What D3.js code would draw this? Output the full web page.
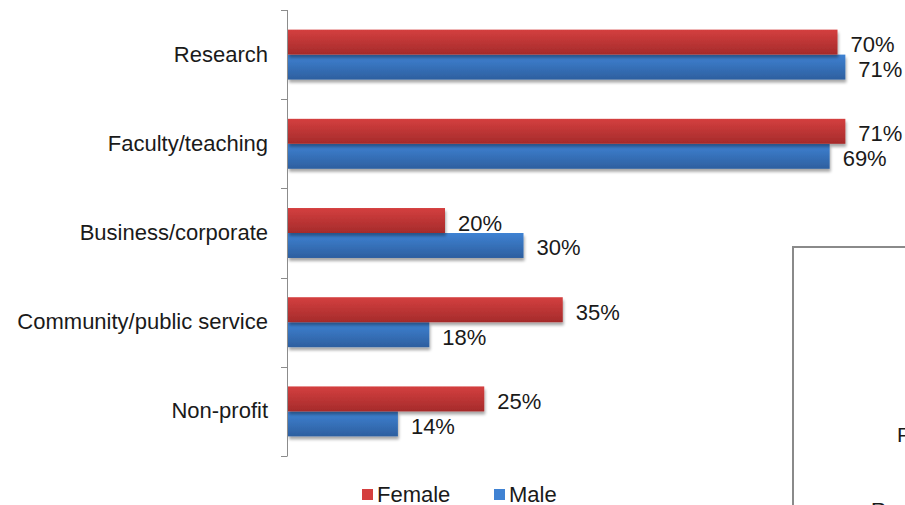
<!DOCTYPE html>
<html>
<head>
<meta charset="utf-8">
<script src="https://cdn.jsdelivr.net/npm/d3@7"></script>
<style>
  html, body { margin: 0; padding: 0; background: #fff; }
  svg { display: block; }
  text { font-family: "Liberation Sans", Arial, sans-serif; fill: #1a1a1a; }
</style>
</head>
<body>
<svg id="chart" width="905" height="505"></svg>
<script>
// Career sector interest by gender (percent of respondents)
const categories = ["Research", "Faculty/teaching", "Business/corporate", "Community/public service", "Non-profit"];
const seriesNames = ["Female", "Male"];
const femaleValues = [70, 71, 20, 35, 25];
const maleValues = [71, 69, 30, 18, 14];

const svg = d3.select("#chart");
const W = 905, H = 505;

const x = d3.scaleLinear().domain([0, 80]).range([288, 916]);
const y = d3.scaleBand().domain(categories).range([10, 456])
  .paddingInner(0.44).paddingOuter(0.22);
const ySub = d3.scaleBand().domain(seriesNames).range([0, y.bandwidth()]);

const rows = categories.map((c, i) => ({ cat: c, Female: femaleValues[i], Male: maleValues[i] }));

// Gradients and shadow
const defs = svg.append("defs");
const grads = {
  Female: ["#d43f3f", "#a52b2b"],
  Male: ["#3f82d3", "#2d5f9f"]
};
seriesNames.forEach(s => {
  const g = defs.append("linearGradient").attr("id", "grad-" + s)
    .attr("x1", 0).attr("y1", 0).attr("x2", 0).attr("y2", 1);
  g.append("stop").attr("offset", "0%").attr("stop-color", grads[s][0]);
  g.append("stop").attr("offset", "100%").attr("stop-color", grads[s][1]);
});
const f = defs.append("filter").attr("id", "shadow")
  .attr("x", "-5%").attr("y", "-20%").attr("width", "110%").attr("height", "160%");
f.append("feGaussianBlur").attr("in", "SourceAlpha").attr("stdDeviation", 1.6).attr("result", "b");
f.append("feOffset").attr("in", "b").attr("dx", 1).attr("dy", 3).attr("result", "o");
f.append("feComponentTransfer").attr("in", "o").attr("result", "o2")
  .append("feFuncA").attr("type", "linear").attr("slope", 0.35);
const fm = f.append("feMerge");
fm.append("feMergeNode").attr("in", "o2");
fm.append("feMergeNode").attr("in", "SourceGraphic");

// Bars
const groups = svg.append("g").selectAll("g").data(rows).join("g")
  .attr("transform", d => `translate(0,${y(d.cat)})`);

// Male first so the female bar sits above its shadow ordering correctly
["Male", "Female"].forEach(s => {
  groups.append("rect")
    .attr("x", x(0))
    .attr("y", ySub(s))
    .attr("width", d => x(d[s]) - x(0))
    .attr("height", ySub.bandwidth())
    .attr("fill", `url(#grad-${s})`)
    .attr("filter", "url(#shadow)");
});

// Value labels
seriesNames.forEach(s => {
  groups.append("text")
    .attr("x", d => x(d[s]) + 13)
    .attr("y", ySub(s) + ySub.bandwidth() / 2 + 10)
    .attr("font-size", 22)
    .text(d => d[s] + "%");
});

// Category axis
const axisG = svg.append("g");
axisG.append("line")
  .attr("x1", x(0) - 0.5).attr("x2", x(0) - 0.5)
  .attr("y1", y.range()[0]).attr("y2", y.range()[1])
  .attr("stroke", "#8c8c8c").attr("stroke-width", 1);
const tickYs = categories.map(c => y(c) - y.step() * y.paddingInner() / 2);
tickYs[0] = y.range()[0];
tickYs.push(y.range()[1]);
axisG.selectAll("line.tick").data(tickYs).join("line")
  .attr("class", "tick")
  .attr("x1", x(0) - 7).attr("x2", x(0) - 0.5)
  .attr("y1", d => Math.round(d) + 0.5).attr("y2", d => Math.round(d) + 0.5)
  .attr("stroke", "#8c8c8c").attr("stroke-width", 1);
axisG.selectAll("text").data(categories).join("text")
  .attr("x", 268)
  .attr("y", d => y(d) + y.bandwidth() / 2 + 7)
  .attr("text-anchor", "end")
  .attr("font-size", 22)
  .text(d => d);

// Legend
const legend = svg.append("g");
const legendX = { Female: 362, Male: 494 };
seriesNames.forEach(s => {
  legend.append("rect")
    .attr("x", legendX[s]).attr("y", 489)
    .attr("width", 11).attr("height", 11)
    .attr("fill", grads[s][0]);
  legend.append("text")
    .attr("x", legendX[s] + 15).attr("y", 501.5)
    .attr("font-size", 22)
    .text(s);
});

// Adjacent framed panel at the right edge
const side = svg.append("g");
side.append("rect")
  .attr("x", 793).attr("y", 247)
  .attr("width", 200).attr("height", 300)
  .attr("fill", "#fff")
  .attr("stroke", "#8a8a8a").attr("stroke-width", 2);
side.append("text")
  .attr("x", 897).attr("y", 442)
  .attr("font-family", "'Open Sans', sans-serif")
  .attr("font-size", 21)
  .text("F");
side.append("text")
  .attr("x", 871).attr("y", 517)
  .attr("font-family", "'Open Sans', sans-serif")
  .attr("font-size", 21)
  .text("R");
</script>
</body>
</html>
